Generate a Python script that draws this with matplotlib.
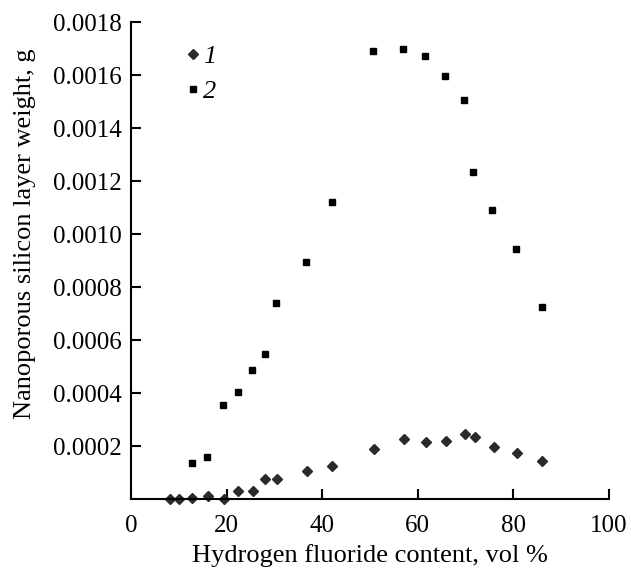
import matplotlib
matplotlib.use("Agg")
import matplotlib.pyplot as plt

plt.rcParams['font.family'] = ['Liberation Serif', 'DejaVu Serif']

# series 1 (diamonds)
hf_1 = [8.2, 10.1, 12.8, 16.1, 19.5, 22.4, 25.5, 28.1, 30.5, 36.9, 42.1,
        50.8, 57.1, 61.7, 65.8, 69.8, 71.9, 75.9, 80.7, 86.0]
weight_1 = [0.0, 0.0, 0.000006, 0.000012, 0.0, 0.000031, 0.000031, 0.000078,
            0.000077, 0.000108, 0.000125, 0.000191, 0.000226, 0.000215,
            0.000221, 0.000245, 0.000234, 0.000197, 0.000174, 0.000143]

# series 2 (squares)
hf_2 = [12.7, 16.0, 19.3, 22.3, 25.3, 28.0, 30.3, 36.7, 42.0, 50.6, 56.9,
        61.6, 65.6, 69.6, 71.5, 75.6, 80.6, 86.0]
weight_2 = [0.000136, 0.000158, 0.000356, 0.000404, 0.000488, 0.000548,
            0.00074, 0.000894, 0.001123, 0.001692, 0.001698, 0.001673,
            0.001595, 0.001506, 0.001235, 0.001092, 0.000943, 0.000727]

x_ticks = [0, 20, 40, 60, 80, 100]
y_ticks = [0.0002, 0.0004, 0.0006, 0.0008, 0.0010, 0.0012, 0.0014, 0.0016, 0.0018]
y_labels = ["0.0002", "0.0004", "0.0006", "0.0008", "0.0010",
            "0.0012", "0.0014", "0.0016", "0.0018"]

fig = plt.figure(figsize=(6.31, 5.68), dpi=100)
ax = fig.add_axes([131/631, 1-499.3/568, 478/631, 477.3/568])

ax.plot(hf_1, weight_1, linestyle='none', marker='D', markersize=5.5,
        color='#2b2b2b', label='1', clip_on=False)
ax.plot(hf_2, weight_2, linestyle='none', marker='s', markersize=4.5,
        color='black', label='2', clip_on=False)

ax.set_xlim(0, 100)
ax.set_ylim(0, 0.0018)
ax.set_xticks(x_ticks)
ax.set_yticks(y_ticks)
ax.set_yticklabels(y_labels)

for s in ['top', 'right']:
    ax.spines[s].set_visible(False)
for s in ['left', 'bottom']:
    ax.spines[s].set_linewidth(1.5)

ax.tick_params(direction='in', length=7, width=1.5, labelsize=18)
ax.tick_params(axis='x', pad=11)
ax.tick_params(axis='y', pad=7)
ax.set_xlabel("Hydrogen fluoride content, vol %", fontsize=19, labelpad=5)
ax.set_ylabel("Nanoporous silicon layer weight, g", fontsize=19)
ax.yaxis.set_label_coords(-0.199, 0.556)

leg = ax.legend(loc='upper left', bbox_to_anchor=(0.063, 1.003), frameon=False,
                handlelength=0.6, handletextpad=0.1, labelspacing=0.46,
                prop={'style': 'italic', 'size': 19})

fig.savefig("out.png", dpi=100)
